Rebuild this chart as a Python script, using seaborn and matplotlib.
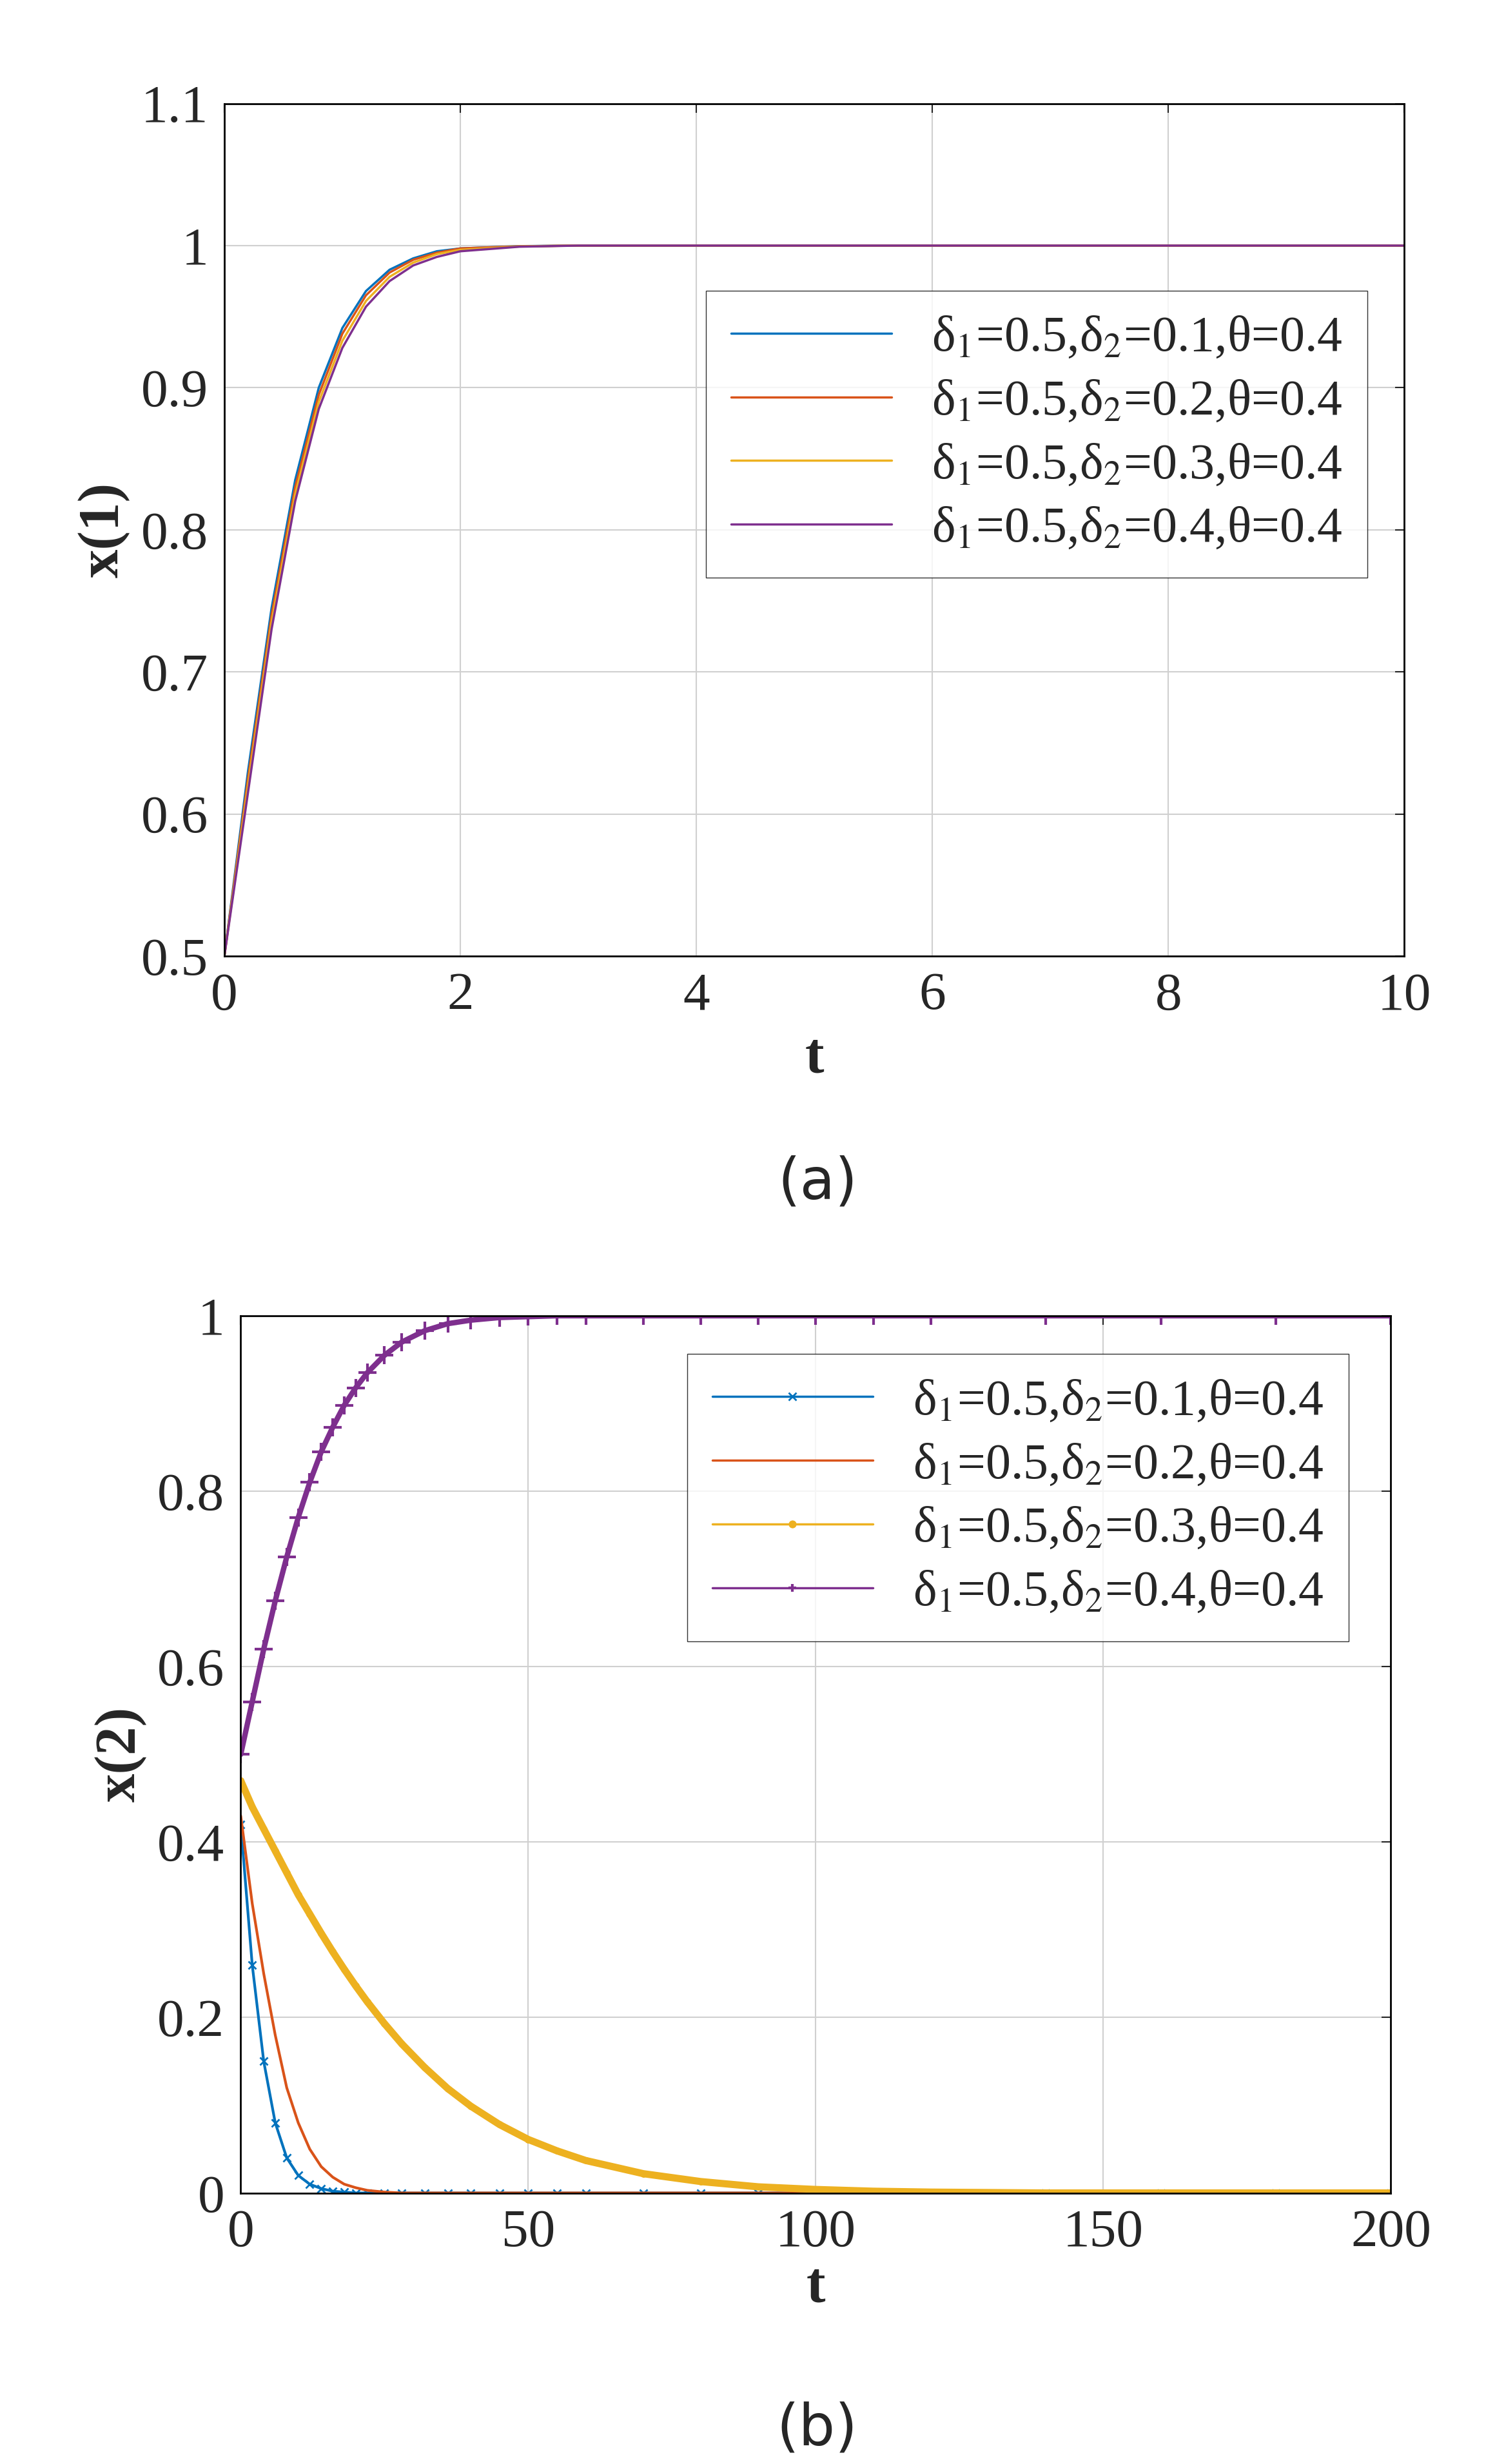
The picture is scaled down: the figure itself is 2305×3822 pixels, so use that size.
import numpy as np
import pandas as pd
import seaborn as sns
import matplotlib.pyplot as plt

sns.set_style('white')
plt.rcParams['font.family'] = ['Liberation Serif', 'DejaVu Serif']
plt.rcParams['mathtext.fontset'] = 'stix'

labels = ['δ$_1$=0.5,δ$_2$=0.1,θ=0.4', 'δ$_1$=0.5,δ$_2$=0.2,θ=0.4',
          'δ$_1$=0.5,δ$_2$=0.3,θ=0.4', 'δ$_1$=0.5,δ$_2$=0.4,θ=0.4']
colors = ['#0072BD', '#D95319', '#EDB120', '#7E2F8E']

# panel (a)
t_a = [0, 0.2, 0.4, 0.6, 0.8, 1.0, 1.2, 1.4, 1.6, 1.8, 2.0, 2.5, 3.0, 4.0, 10.0]
x1_s1 = [0.5, 0.63, 0.745, 0.835, 0.90, 0.942, 0.968, 0.983, 0.991, 0.996, 0.998, 0.9996, 1.0, 1.0, 1.0]
x1_s2 = [0.5, 0.625, 0.74, 0.83, 0.895, 0.938, 0.965, 0.981, 0.990, 0.995, 0.998, 0.9995, 1.0, 1.0, 1.0]
x1_s3 = [0.5, 0.62, 0.735, 0.825, 0.89, 0.933, 0.961, 0.978, 0.988, 0.994, 0.997, 0.9994, 1.0, 1.0, 1.0]
x1_s4 = [0.5, 0.615, 0.73, 0.82, 0.885, 0.928, 0.957, 0.975, 0.986, 0.992, 0.996, 0.9992, 1.0, 1.0, 1.0]

# panel (b)
t_b = [0, 2, 4, 6, 8, 10, 12, 14, 16, 18, 20, 22, 25, 28, 32, 36, 40, 45, 50, 55, 60, 70, 80,
       90, 100, 110, 120, 140, 160, 180, 200]
x2_s1 = [0.42, 0.26, 0.15, 0.08, 0.04, 0.02, 0.01, 0.005, 0.002, 0.001, 0, 0, 0, 0, 0, 0, 0,
         0, 0, 0, 0, 0, 0, 0, 0, 0, 0, 0, 0, 0, 0]
x2_s2 = [0.43, 0.33, 0.25, 0.18, 0.12, 0.08, 0.05, 0.03, 0.018, 0.01, 0.006, 0.003, 0.001, 0,
         0, 0, 0, 0, 0, 0, 0, 0, 0, 0, 0, 0, 0, 0, 0, 0, 0]
x2_s3 = [0.47, 0.44, 0.415, 0.39, 0.365, 0.34, 0.318, 0.296, 0.275, 0.255, 0.236, 0.218, 0.193,
         0.17, 0.143, 0.119, 0.099, 0.078, 0.061, 0.048, 0.037, 0.022, 0.013, 0.007, 0.004,
         0.002, 0.001, 0, 0, 0, 0]
x2_s4 = [0.5, 0.56, 0.62, 0.675, 0.725, 0.77, 0.81, 0.845, 0.873, 0.898, 0.918, 0.935, 0.955,
         0.97, 0.983, 0.991, 0.995, 0.998, 0.999, 1.0, 1.0, 1.0, 1.0, 1.0, 1.0, 1.0, 1.0, 1.0,
         1.0, 1.0, 1.0]

TICK = 60
LAB = 64
LEG = 56

fig = plt.figure(figsize=(23.05, 38.22), dpi=100)
ax1 = fig.add_axes([0.151, 0.612, 0.794, 0.346])
ax2 = fig.add_axes([0.162, 0.110, 0.774, 0.356])

for y, c, lab in zip([x1_s1, x1_s2, x1_s3, x1_s4], colors, labels):
    sns.lineplot(x=t_a, y=y, color=c, label=lab, linewidth=2.5, ax=ax1)
ax1.set_xlim(0, 10)
ax1.set_ylim(0.5, 1.1)
ax1.set_xticks(np.arange(0, 11, 2))
ax1.set_yticks([0.5, 0.6, 0.7, 0.8, 0.9, 1.0, 1.1])
ax1.set_yticklabels(['0.5', '0.6', '0.7', '0.8', '0.9', '1', '1.1'])
ax1.set_xlabel('t', fontsize=LAB, fontweight='bold', labelpad=12)
ax1.set_ylabel('x(1)', fontsize=LAB, fontweight='bold', labelpad=12)
ax1.legend(loc='upper right', bbox_to_anchor=(0.99, 0.81), fontsize=LEG, frameon=True,
           fancybox=False, edgecolor='black', handlelength=3.2, borderpad=0.5,
           labelspacing=0.35)
fig.text(0.55, 0.52, '(a)', ha='center', va='center', fontsize=LAB,
         family=['DejaVu Sans'])

styles = [dict(marker='x', linewidth=3, markersize=8, markeredgewidth=2),
          dict(marker=None, linewidth=3),
          dict(marker='o', linewidth=8, markersize=7),
          dict(marker='+', linewidth=6, markersize=20, markeredgewidth=3)]
for y, c, lab, st in zip([x2_s1, x2_s2, x2_s3, x2_s4], colors, labels, styles):
    sns.lineplot(x=t_b, y=y, color=c, label=lab, ax=ax2, markeredgecolor=c, **st)
ax2.set_xlim(0, 200)
ax2.set_ylim(0, 1)
ax2.set_xticks([0, 50, 100, 150, 200])
ax2.set_yticks([0, 0.2, 0.4, 0.6, 0.8, 1.0])
ax2.set_yticklabels(['0', '0.2', '0.4', '0.6', '0.8', '1'])
ax2.set_xlabel('t', fontsize=LAB, fontweight='bold', labelpad=4)
ax2.set_ylabel('x(2)', fontsize=LAB, fontweight='bold', labelpad=12)
leg = ax2.legend(loc='upper right', bbox_to_anchor=(0.985, 0.985), fontsize=LEG, frameon=True,
                 fancybox=False, edgecolor='black', handlelength=3.2, borderpad=0.5,
                 labelspacing=0.35)
for h in leg.get_lines():
    h.set_linewidth(2.5)
    h.set_markersize(8)
fig.text(0.55, 0.014, '(b)', ha='center', va='center', fontsize=LAB,
         family=['DejaVu Sans'])

for ax in (ax1, ax2):
    ax.grid(True, color='#d0d0d0', linewidth=1.5)
    ax.tick_params(labelsize=TICK, direction='in', length=10, width=1.5,
                   top=True, right=True, pad=18)
    for s in ax.spines.values():
        s.set_color('black')
        s.set_linewidth(2)

fig.savefig('out.png', dpi=100)
